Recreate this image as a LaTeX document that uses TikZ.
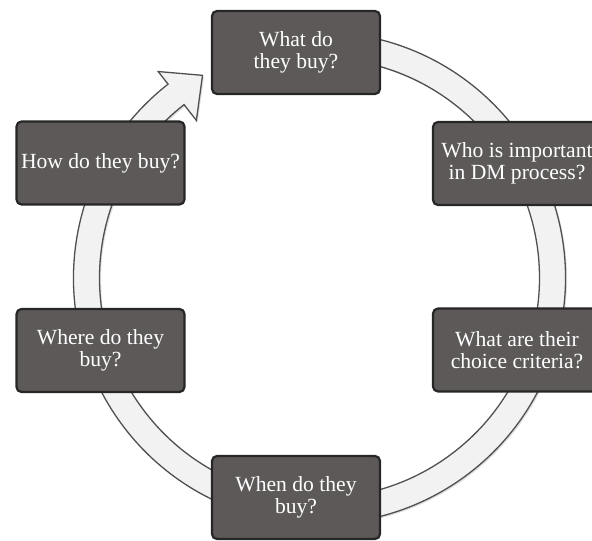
\documentclass[tikz,border=0pt]{standalone}
\usepackage{fontspec}
\setmainfont{Liberation Serif}
\usetikzlibrary{shadows,positioning,calc,backgrounds}
\definecolor{boxgray}{RGB}{93,89,89}
\definecolor{ringgray}{RGB}{242,242,242}
\definecolor{ringline}{RGB}{80,80,80}

\begin{document}
\begin{tikzpicture}
[x=1pt,y=1pt,
Q/.style={draw=black!85,line width=2.2pt,rounded corners=5pt,fill=boxgray,text=white,
  minimum width=168pt,minimum height=83pt,inner sep=0pt,align=center,
  font=\fontsize{21.6}{22}\selectfont},
ring/.style={fill=ringgray,draw=ringline,line width=1.3pt,line join=miter,
  drop shadow={opacity=.25,shadow xshift=1.5pt,shadow yshift=-1.5pt}}]
%%
\useasboundingbox (0,0) rectangle (592,541);
%%%%%%%%%%%%%%%%%%
% ring arrow
%%%%%%%%%%%%%%%%%%
\begin{scope}[shift={(319.5,263)}]
\def \ro {246pt}
\def \ri {220pt}
\coordinate (tip) at (-240:234pt);
\filldraw[ring] (80:\ro) arc(80:-232:\ro) -- (-232:262pt) -- (tip)
  -- (-232:200pt) -- (-232:\ri) arc(-232:80:\ri) -- cycle;
\end{scope}
%%%%%%%%%%%%%%%%%%
% questions
%%%%%%%%%%%%%%%%%%
\node[Q] (buy) at (296,488.5) {What do\\they buy?};
\node[Q] (who) at (517,377.5) {Who is important\\in DM process?};
\node[Q] (crit) at (517,191) {What are their\\choice criteria?};
\node[Q] (when) at (296,43.5) {When do they\\buy?};
\node[Q] (where) at (100.5,190.5) {Where do they\\buy?};
\node[Q] (how) at (100.5,378) {How do they buy?};
%%
\end{tikzpicture}
\end{document}
